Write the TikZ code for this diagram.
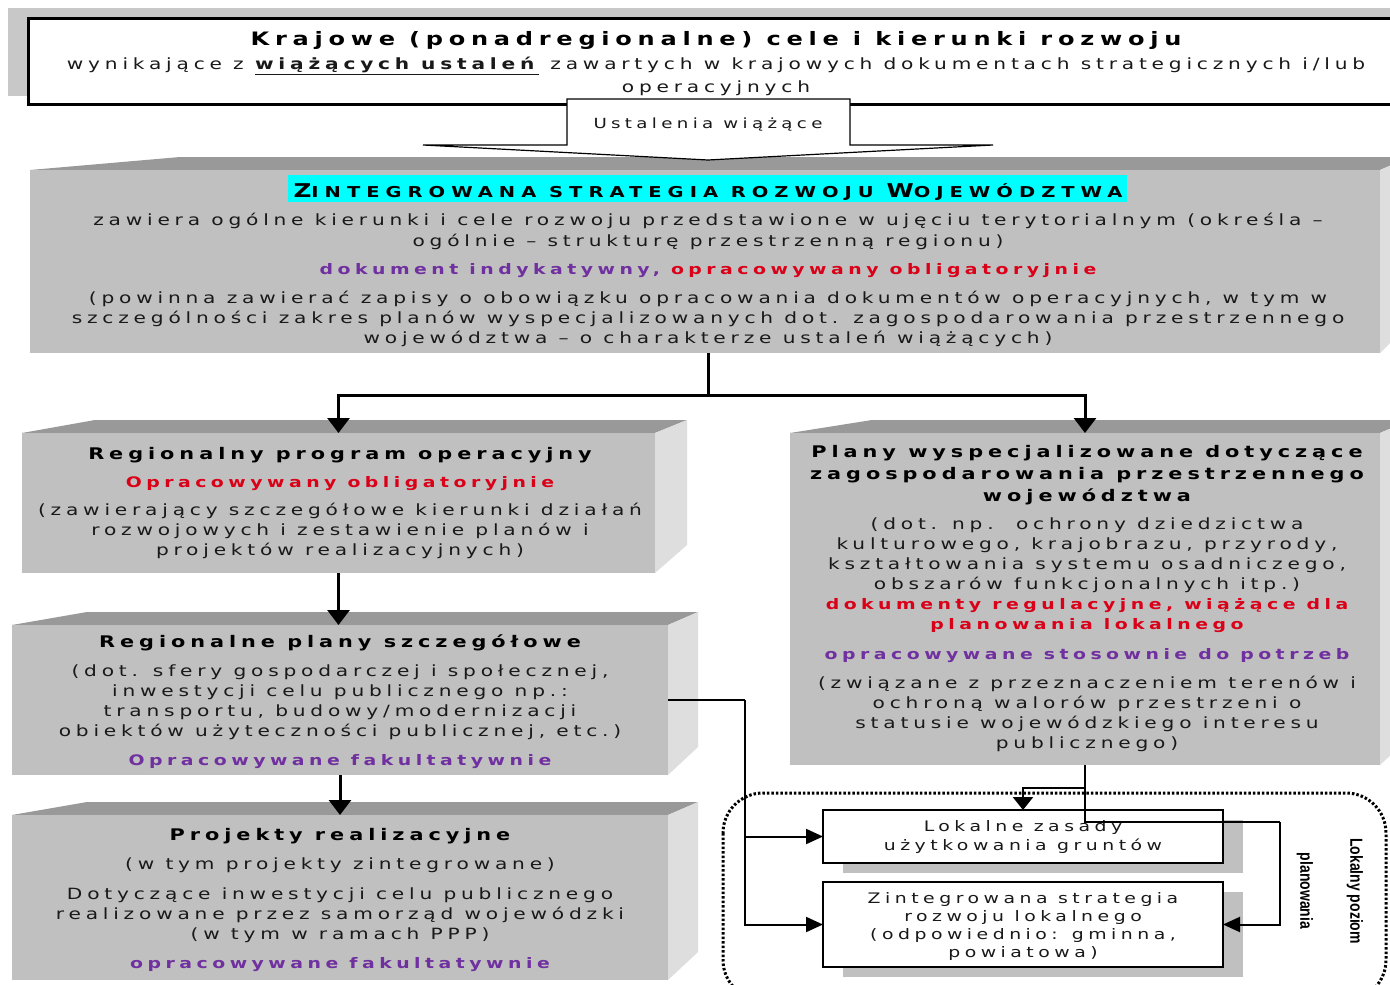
\documentclass[tikz,border=0pt]{standalone}
\usepackage{fontspec}
\setmainfont{DejaVu Sans}[FakeStretch=1.3,LetterSpace=31]
\newfontfamily\hfont{DejaVu Sans}[FakeStretch=1.3,LetterSpace=40]
\newfontfamily\nfont{Liberation Sans}[FakeStretch=0.8]
\usetikzlibrary{arrows.meta}
\definecolor{frontc}{RGB}{192,192,192}
\definecolor{topc}{RGB}{153,153,153}
\definecolor{sidec}{RGB}{222,222,222}
\definecolor{shadc}{RGB}{200,200,200}
\definecolor{purp}{RGB}{112,48,160}
\definecolor{redd}{RGB}{218,0,24}
\definecolor{cyanh}{RGB}{0,255,255}
\definecolor{textc}{RGB}{25,25,25}
\tikzset{
 txt/.style={anchor=base, inner sep=0pt, text=textc, font=\fontsize{15.5}{19}\selectfont},
 hd/.style={anchor=base, inner sep=0pt, text=black, font=\fontsize{16}{20}\selectfont\bfseries},
 bd/.style={anchor=base, inner sep=0pt, font=\fontsize{14.5}{19}\selectfont\bfseries},
 sm/.style={anchor=base, inner sep=0pt, text=textc, font=\fontsize{14.5}{18}\selectfont},
 front/.style={fill=frontc, inner sep=0pt, outer sep=0pt, anchor=north west},
 bigarrow/.style={line width=3pt, -{Triangle[width=22pt,length=15pt]}},
 smallarrow/.style={line width=2pt, -{Triangle[width=15pt,length=17pt]}},
 wbox/.style={draw, line width=2pt, fill=white, inner sep=0pt, outer sep=0pt, anchor=north west},
}
\newcommand\solidbox[8]{%
 \fill[topc] (#2,#3) -- (#2+#6,#3-13) -- (#4+#7,#3-13) -- (#4,#3) -- cycle;
 \fill[sidec] (#4,#3) -- (#4+#7,#3-13) -- (#4+#7,#5-#8) -- (#4,#5) -- cycle;
 \node[front, minimum width=#4pt-#2pt, minimum height=#5pt-#3pt] (#1) at (#2,#3) {};
}
\begin{document}
\begin{tikzpicture}[x=1pt,y=-1pt]
\useasboundingbox (0,0) rectangle (1390,985);
\clip (0,0) rectangle (1390,985);
\fill[white] (0,0) rectangle (1390,985);
% top box
\fill[shadc] (8,8) rectangle (1395,96);
\node[draw, line width=3pt, fill=white, anchor=north west, inner sep=0pt, outer sep=0pt,
  minimum width=1380pt, minimum height=86pt] (topbox) at (28,18) {};
\node[hd, font=\fontsize{18.5}{22}\selectfont\bfseries] (t1) at (716,45) {Krajowe (ponadregionalne) cele i kierunki rozwoju};
\node[txt] (t2) at (716,69) {wynikające z \underline{\textbf{wiążących ustaleń}} zawartych w krajowych dokumentach strategicznych i/lub};
\node[txt] (t3) at (716,92) {operacyjnych};
% ZSRW
\solidbox{zsrw}{30}{170}{1380}{353}{150}{30}{30}
\node[fill=cyanh, inner sep=0pt, minimum width=839pt, minimum height=27pt] (zhl) at (707.5,188.5) {};
\node[anchor=base, inner sep=0pt, text=black] (zhead) at (708,197) {\hfont\bfseries{\fontsize{19}{20}\selectfont Z}{\fontsize{15}{20}\selectfont INTEGROWANA STRATEGIA ROZWOJU }{\fontsize{19}{20}\selectfont W}{\fontsize{15}{20}\selectfont OJEWÓDZTWA}};
\node[txt] (z1) at (708,225) {zawiera ogólne kierunki i cele rozwoju przedstawione w ujęciu terytorialnym (określa –};
\node[txt] (z2) at (708,246) {ogólnie – strukturę przestrzenną regionu)};
\node[bd] (z3) at (708,274) {\textcolor{purp}{dokument indykatywny,} \textcolor{redd}{opracowywany obligatoryjnie}};
\node[txt] (z4) at (708,303) {(powinna zawierać zapisy o obowiązku opracowania dokumentów operacyjnych, w tym w};
\node[txt] (z5) at (708,323) {szczególności zakres planów wyspecjalizowanych dot. zagospodarowania przestrzennego};
\node[txt] (z6) at (708,343) {województwa – o charakterze ustaleń wiążących)};
% callout arrow
\draw[line width=1.2pt, fill=white] (567,99) -- (850,99) -- (850,145) -- (993,145) -- (708,160) -- (423,145) -- (567,145) -- cycle;
\node[txt, font=\fontsize{14}{18}\selectfont] (ust) at (708,128) {Ustalenia wiążące};
% RPO
\solidbox{rpo}{22}{433}{655}{573}{73}{32}{28}
\node[hd] (r1) at (340,459) {Regionalny program operacyjny};
\node[bd, text=redd] (r2) at (340,487) {Opracowywany obligatoryjnie};
\node[txt] (r3) at (340,515) {(zawierający szczegółowe kierunki działań};
\node[txt] (r4) at (340,535) {rozwojowych i zestawienie planów i};
\node[txt] (r5) at (340,555) {projektów realizacyjnych)};
% RPS
\solidbox{rps}{12}{625}{668}{775}{75}{30}{28}
\node[hd] (s1) at (340,647) {Regionalne plany szczegółowe};
\node[txt] (s2) at (340,676) {(dot. sfery gospodarczej i społecznej,};
\node[txt] (s3) at (340,696) {inwestycji celu publicznego np.:};
\node[txt] (s4) at (340,716) {transportu, budowy/modernizacji};
\node[txt] (s5) at (340,736) {obiektów użyteczności publicznej, etc.)};
\node[bd, text=purp] (s6) at (340,765) {Opracowywane fakultatywnie};
% PR
\solidbox{pr}{12}{815}{668}{980}{75}{30}{28}
\node[hd] (p1) at (340,840) {Projekty realizacyjne};
\node[txt] (p2) at (340,869) {(w tym projekty zintegrowane)};
\node[txt] (p3) at (340,899) {Dotyczące inwestycji celu publicznego};
\node[txt] (p4) at (340,919) {realizowane przez samorząd wojewódzki};
\node[txt] (p5) at (340,939) {(w tym w ramach PPP)};
\node[bd, text=purp] (p6) at (340,968) {opracowywane fakultatywnie};
% PW
\solidbox{pw}{790}{433}{1380}{765}{82}{30}{28}
\node[hd] (w1) at (1087,457) {Plany wyspecjalizowane dotyczące};
\node[hd] (w2) at (1087,479) {zagospodarowania przestrzennego};
\node[hd] (w3) at (1087,501) {województwa};
\node[txt] (w4) at (1087,529) {(dot. np.\ \ ochrony dziedzictwa};
\node[txt] (w5) at (1087,549) {kulturowego, krajobrazu, przyrody,};
\node[txt] (w6) at (1087,569) {kształtowania systemu osadniczego,};
\node[txt] (w7) at (1087,589) {obszarów funkcjonalnych itp.)};
\node[bd, text=redd] (w8) at (1087,609) {dokumenty regulacyjne, wiążące dla};
\node[bd, text=redd] (w9) at (1087,629) {planowania lokalnego};
\node[bd, text=purp] (w10) at (1087,659) {opracowywane stosownie do potrzeb};
\node[txt] (w11) at (1087,688) {(związane z przeznaczeniem terenów i};
\node[txt] (w12) at (1087,708) {ochroną walorów przestrzeni o};
\node[txt] (w13) at (1087,728) {statusie wojewódzkiego interesu};
\node[txt] (w14) at (1087,748) {publicznego)};
% local level
\draw[line width=3pt, dash pattern=on 2.5pt off 2pt, rounded corners=40pt] (723,793) rectangle (1386,1000);
\fill[frontc] (843,820) rectangle (1243,873);
\fill[frontc] (843,892) rectangle (1243,977);
\node[wbox, minimum width=400pt, minimum height=53pt] (lz) at (823,810) {};
\node[wbox, minimum width=400pt, minimum height=85pt] (zl) at (823,882) {};
\node[sm] (l1) at (1023,831) {Lokalne zasady};
\node[sm] (l2) at (1023,850) {użytkowania gruntów};
\node[sm] (g1) at (1023,903) {Zintegrowana strategia};
\node[sm] (g2) at (1023,921) {rozwoju lokalnego};
\node[sm] (g3) at (1023,939) {(odpowiednio: gminna,};
\node[sm] (g4) at (1023,957) {powiatowa)};
\node[inner sep=0pt, rotate=-90, font=\nfont\fontsize{17.5}{20}\selectfont\bfseries] (lp1) at (1355,891) {Lokalny poziom};
\node[inner sep=0pt, rotate=-90, font=\nfont\fontsize{17.5}{20}\selectfont\bfseries] (lp2) at (1305,891) {planowania};
% connectors
\coordinate (split) at (708,395);
\draw[line width=3pt] (split |- zsrw.south) -- (split);
\draw[bigarrow] (split) -| (rpo.north);
\draw[bigarrow] (split) -| (pw.north);
\draw[bigarrow] (rpo.south) -- (rpo.south |- rps.north);
\draw[bigarrow] (rps.south) -- (pr.north);
\coordinate (colL) at (745,700);
\draw[line width=2pt] (rps.east) -- (colL);
\draw[smallarrow] (colL) |- (zl.west);
\draw[smallarrow] (colL |- lz.west) -- (lz.west);
\coordinate (pa) at (1085,788);
\coordinate (pb) at (1085,822);
\coordinate (pc) at (1280,822);
\draw[line width=2pt] (pw.south) -- (pb) -- (pc);
\draw[smallarrow] (pc) |- (zl.east);
\draw[line width=2.5pt, -{Triangle[width=20pt,length=13pt]}] (pa) -| (lz.north);
\end{tikzpicture}
\end{document}
